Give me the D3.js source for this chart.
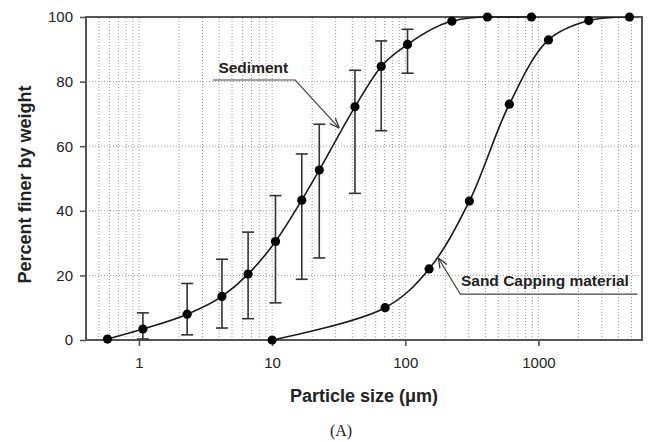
<!DOCTYPE html>
<html>
<head>
<meta charset="utf-8">
<script src="https://cdn.jsdelivr.net/npm/d3@7"></script>
<style>
  body { margin: 0; background: #fff; }
  svg { display: block; font-family: "Liberation Sans", Arial, sans-serif; }
</style>
</head>
<body>
<div id="chart"></div>
<script>
const FRAME_WIDTH = 650;
const FRAME_HEIGHT = 442;
const MARGINS = { left: 86, right: 8, top: 17, bottom: 102 };

// Sediment (mean with min/max bars)
const sedSize = [0.58, 1.07, 2.3, 4.2, 6.6, 10.6, 16.7, 22.6, 41.9, 66, 104, 224, 414, 886];
const sedPct = [0.3, 3.4, 8.0, 13.5, 20.4, 30.5, 43.3, 52.6, 72.2, 84.7, 91.5, 98.7, 100, 100];
const sedHigh = [null, 8.4, 17.5, 25, 33.4, 44.7, 57.6, 66.8, 83.5, 92.6, 96.2, null, null, null];
const sedLow = [null, 0.3, 1.6, 3.7, 6.6, 11.5, 18.8, 25.4, 45.4, 64.8, 82.6, null, null, null];

// Sand capping material
const sandSize = [10, 70.6, 151, 303, 605, 1190, 2390, 4830];
const sandPct = [0, 10.0, 22.0, 43.0, 73.0, 92.9, 98.9, 100];

const yTicks = [0, 20, 40, 60, 80, 100];
const xTicks = [1, 10, 100, 1000];

const VIS_WIDTH = FRAME_WIDTH - MARGINS.left - MARGINS.right;
const VIS_HEIGHT = FRAME_HEIGHT - MARGINS.top - MARGINS.bottom;

const svg = d3.select("#chart")
    .append("svg")
    .attr("width", FRAME_WIDTH)
    .attr("height", FRAME_HEIGHT);

const X_SCALE = d3.scaleLog()
    .domain([0.4, 6000])
    .range([MARGINS.left, MARGINS.left + VIS_WIDTH]);

const Y_SCALE = d3.scaleLinear()
    .domain([0, 100])
    .range([MARGINS.top + VIS_HEIGHT, MARGINS.top]);

svg.append("clipPath").attr("id", "plot")
    .append("rect")
    .attr("x", MARGINS.left).attr("y", MARGINS.top)
    .attr("width", VIS_WIDTH).attr("height", VIS_HEIGHT);

// dotted grid
const dom = X_SCALE.domain();
svg.append("g")
    .selectAll("line")
    .data(X_SCALE.ticks().filter(d => d > dom[0] * 1.01 && d < dom[1] * 0.99))
    .enter()
    .append("line")
    .attr("x1", d => X_SCALE(d)).attr("x2", d => X_SCALE(d))
    .attr("y1", Y_SCALE(0)).attr("y2", Y_SCALE(100))
    .attr("stroke", "#9a9a9a")
    .attr("stroke-width", 1)
    .attr("stroke-dasharray", "1,2");

svg.append("g")
    .selectAll("line")
    .data(yTicks.slice(1, -1))
    .enter()
    .append("line")
    .attr("x1", X_SCALE.range()[0]).attr("x2", X_SCALE.range()[1])
    .attr("y1", d => Y_SCALE(d)).attr("y2", d => Y_SCALE(d))
    .attr("stroke", "#9a9a9a")
    .attr("stroke-width", 1)
    .attr("stroke-dasharray", "1,2");

// axes
const yAxis = svg.append("g")
    .attr("transform", "translate(" + MARGINS.left + ",0)")
    .call(d3.axisLeft(Y_SCALE).tickValues(yTicks).tickSize(6).tickPadding(7));
const xAxis = svg.append("g")
    .attr("transform", "translate(0," + (MARGINS.top + VIS_HEIGHT) + ")")
    .call(d3.axisBottom(X_SCALE).tickValues(xTicks).tickFormat(d3.format("d")).tickSize(6).tickPadding(11));

[yAxis, xAxis].forEach(a => {
    a.select(".domain").remove();
    a.selectAll("line").attr("stroke", "#555").attr("stroke-width", 1.6);
    a.selectAll("text")
        .attr("font-family", "'Liberation Sans', Arial, sans-serif")
        .attr("font-size", "15px")
        .attr("fill", "#222");
});

// frame
svg.append("rect")
    .attr("x", MARGINS.left).attr("y", MARGINS.top)
    .attr("width", VIS_WIDTH).attr("height", VIS_HEIGHT)
    .attr("fill", "none")
    .attr("stroke", "#555")
    .attr("stroke-width", 2);

// curves
const sedPts = sedSize.map((s, i) => [s, sedPct[i]]);
const sandPts = sandSize.map((s, i) => [s, sandPct[i]]);

const sedLine = d3.line()
    .x(d => X_SCALE(d[0]))
    .y(d => Y_SCALE(d[1]))
    .curve(d3.curveMonotoneX);
const sandLine = d3.line()
    .x(d => X_SCALE(d[0]))
    .y(d => Y_SCALE(d[1]))
    .curve(d3.curveCatmullRom.alpha(0.5));

svg.append("path")
    .attr("d", sedLine(sedPts))
    .attr("fill", "none")
    .attr("stroke", "#1a1a1a")
    .attr("stroke-width", 1.6);
svg.append("path")
    .attr("d", sandLine(sandPts))
    .attr("clip-path", "url(#plot)")
    .attr("fill", "none")
    .attr("stroke", "#1a1a1a")
    .attr("stroke-width", 1.6);

// error bars
const errs = sedSize.map((s, i) => ({ s: s, lo: sedLow[i], hi: sedHigh[i] })).filter(d => d.hi != null);
const eb = svg.append("g").attr("stroke", "#333").attr("stroke-width", 1.6);
eb.selectAll(".v").data(errs).enter().append("line")
    .attr("x1", d => X_SCALE(d.s)).attr("x2", d => X_SCALE(d.s))
    .attr("y1", d => Y_SCALE(d.lo)).attr("y2", d => Y_SCALE(d.hi));
eb.selectAll(".t").data(errs).enter().append("line")
    .attr("x1", d => X_SCALE(d.s) - 6).attr("x2", d => X_SCALE(d.s) + 6)
    .attr("y1", d => Y_SCALE(d.hi)).attr("y2", d => Y_SCALE(d.hi));
eb.selectAll(".b").data(errs).enter().append("line")
    .attr("x1", d => X_SCALE(d.s) - 6).attr("x2", d => X_SCALE(d.s) + 6)
    .attr("y1", d => Y_SCALE(d.lo)).attr("y2", d => Y_SCALE(d.lo));

// points
svg.append("g")
    .selectAll("circle")
    .data(sedPts.concat(sandPts))
    .enter()
    .append("circle")
    .attr("cx", d => X_SCALE(d[0]))
    .attr("cy", d => Y_SCALE(d[1]))
    .attr("r", 4.6)
    .attr("fill", "#000");

// annotations (data coordinates)
svg.append("defs").append("marker")
    .attr("id", "arrow")
    .attr("viewBox", "0 0 10 10")
    .attr("refX", 10).attr("refY", 5)
    .attr("markerWidth", 10).attr("markerHeight", 10)
    .attr("markerUnits", "userSpaceOnUse")
    .attr("orient", "auto")
    .append("path")
    .attr("d", "M0,1 L10,5 L0,9")
    .attr("fill", "none")
    .attr("stroke", "#333")
    .attr("stroke-width", 1.2);

const notes = [
    { text: "Sediment", tx: 3.95, ty: 82.6, path: [[3.6, 80.5], [14.9, 80.5], [31.9, 65.6]] },
    { text: "Sand Capping material", tx: 262, ty: 16.6, path: [[5550, 14.2], [259, 14.2], [177, 25.4]] }
];
notes.forEach(n => {
    svg.append("path")
        .attr("d", d3.line().x(d => X_SCALE(d[0])).y(d => Y_SCALE(d[1]))(n.path))
        .attr("fill", "none")
        .attr("stroke", "#444")
        .attr("stroke-width", 1.2)
        .attr("marker-end", "url(#arrow)");
    svg.append("text")
        .attr("x", X_SCALE(n.tx))
        .attr("y", Y_SCALE(n.ty))
        .attr("font-size", "15.5px")
        .attr("font-weight", "bold")
        .attr("fill", "#222")
        .text(n.text);
});

// titles
svg.append("text")
    .attr("transform", "translate(31," + (MARGINS.top + VIS_HEIGHT / 2 + 6) + ") rotate(-90)")
    .attr("text-anchor", "middle")
    .attr("font-size", "18px")
    .attr("font-weight", "bold")
    .attr("fill", "#222")
    .text("Percent finer by weight");

svg.append("text")
    .attr("x", MARGINS.left + VIS_WIDTH / 2)
    .attr("y", 402)
    .attr("text-anchor", "middle")
    .attr("font-size", "18px")
    .attr("font-weight", "bold")
    .attr("fill", "#222")
    .text("Particle size (μm)");

svg.append("text")
    .attr("x", 341)
    .attr("y", 436)
    .attr("text-anchor", "middle")
    .attr("font-family", "'Liberation Serif', 'DejaVu Serif', serif")
    .attr("font-size", "16px")
    .attr("fill", "#222")
    .text("(A)");
</script>
</body>
</html>
